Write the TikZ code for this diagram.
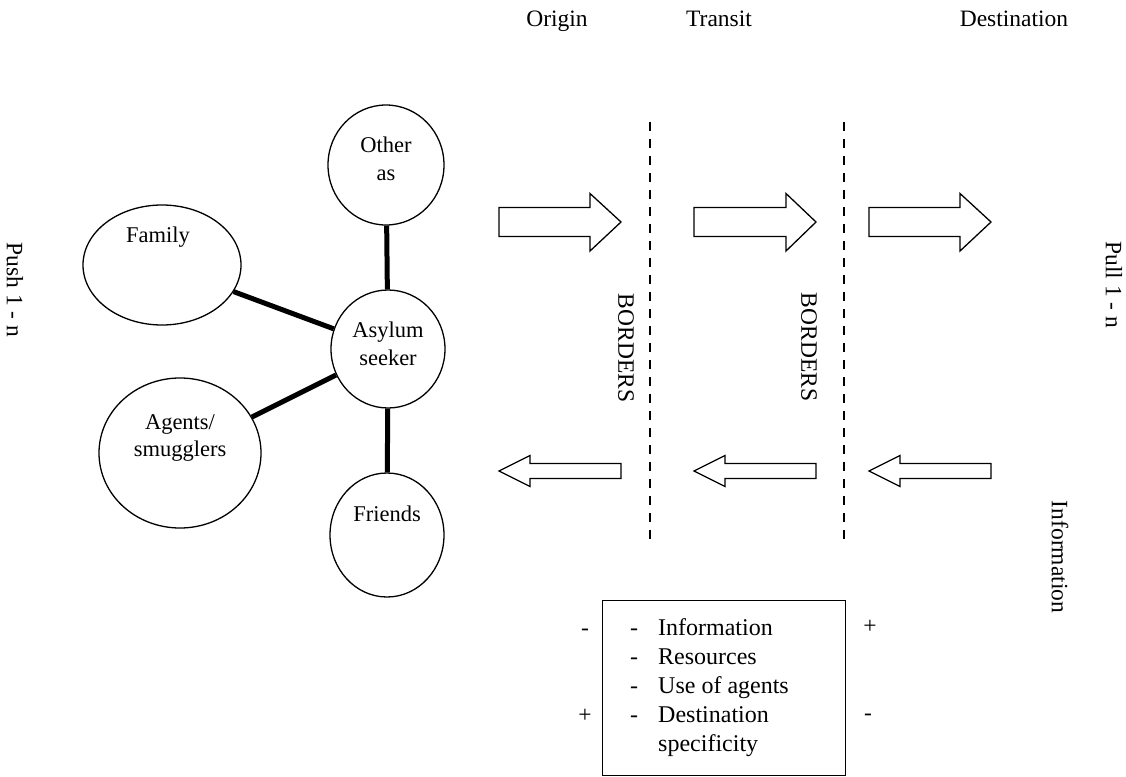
\documentclass[tikz,border=0pt]{standalone}
\usepackage{fontspec}
\setmainfont{Liberation Serif}
\usetikzlibrary{shapes.geometric}
\begin{document}
\begin{tikzpicture}[x=1pt,y=-1pt,
  bubble/.style={draw, ellipse, line width=1.3pt, inner sep=0pt},
  link/.style={line width=5pt},
  blockarrow/.style={draw, line width=1.3pt, line join=miter},
  lbl/.style={font=\fontsize{22.5}{27.5}\selectfont, align=center, inner sep=0pt},
  head/.style={font=\fontsize{23.5}{28}\selectfont, inner sep=0pt},
  borderline/.style={line width=1.2pt, dash pattern=on 9pt off 8pt}]
\useasboundingbox (0,0) rectangle (1126,776);

% column headings
\node[head, anchor=base] (origin) at (557,27) {Origin};
\node[head, anchor=base] (transit) at (719,27) {Transit};
\node[head, anchor=base] (dest) at (1014,27) {Destination};

% side labels
\node[head, rotate=-90] (push) at (15,290) {Push 1 - n};
\node[head, rotate=-90] (pull) at (1114,285) {Pull 1 - n};
\node[head, rotate=-90] (info) at (1060,557) {Information};

% bubbles
\node[bubble, minimum width=116, minimum height=120] (other) at (386,165) {};
\node[bubble, minimum width=114, minimum height=118] (asy) at (388,349) {};
\node[bubble, minimum width=158, minimum height=120] (family) at (162,265) {};
\node[bubble, minimum width=162, minimum height=150] (agents) at (180,453) {};
\node[bubble, minimum width=114, minimum height=124] (friends) at (387,535) {};

\node[lbl] (tother) at (386,159) {Other\\as};
\node[lbl] (tasy) at (388,344) {Asylum\\seeker};
\node[lbl] (tfamily) at (158,237) {Family};
\node[lbl] (tagents) at (180,438) {Agents/\\smugglers};
\node[lbl] (tfriends) at (387,514) {Friends};

% links
\draw[link] (other) -- (asy);
\draw[link] (family) -- (asy);
\draw[link] (agents) -- (asy);
\draw[link] (friends) -- (asy);

% borders
\coordinate (b1t) at (650,122);
\coordinate (b1b) at (650,545);
\coordinate (b2t) at (844,122);
\coordinate (b2b) at (844,545);
\draw[borderline] (b1t) -- (b1b);
\draw[borderline] (b2t) -- (b2b);
\node[head, rotate=-90] (bord1) at (626,348) {BORDERS};
\node[head, rotate=-90] (bord2) at (809,347) {BORDERS};

% right block arrows
\foreach \a/\b/\c in {499/590/621, 694/786/816, 869/960/991}{
  \draw[blockarrow] (\a,207.5) -- (\b,207.5) -- (\b,193.5) -- (\c,222) -- (\b,251) -- (\b,236.5) -- (\a,236.5) -- cycle;
}
% left block arrows
\foreach \a/\b/\c in {499/530/621, 694/725/816, 869/900/991}{
  \draw[blockarrow] (\a,471) -- (\b,455.5) -- (\b,463.5) -- (\c,463.5) -- (\c,478.5) -- (\b,478.5) -- (\b,486.5) -- cycle;
}

% factor box
\node[draw, line width=1.2pt, minimum width=243, minimum height=175, anchor=north west, inner sep=0pt] (box) at (602,600) {};
\node[anchor=north west, inner sep=0pt, font=\fontsize{24}{29}\selectfont] (boxtext) at (630,615)
  {\begin{tabular}{@{}l@{\hspace{20pt}}l@{}}
   - & Information\\
   - & Resources\\
   - & Use of agents\\
   - & Destination\\
     & specificity
   \end{tabular}};
\node[head] (lm) at (585,632) {-};
\node[head] (lp) at (585,716) {+};
\node[head] (rp) at (870,627) {+};
\node[head] (rm) at (868,717) {-};
\end{tikzpicture}
\end{document}
